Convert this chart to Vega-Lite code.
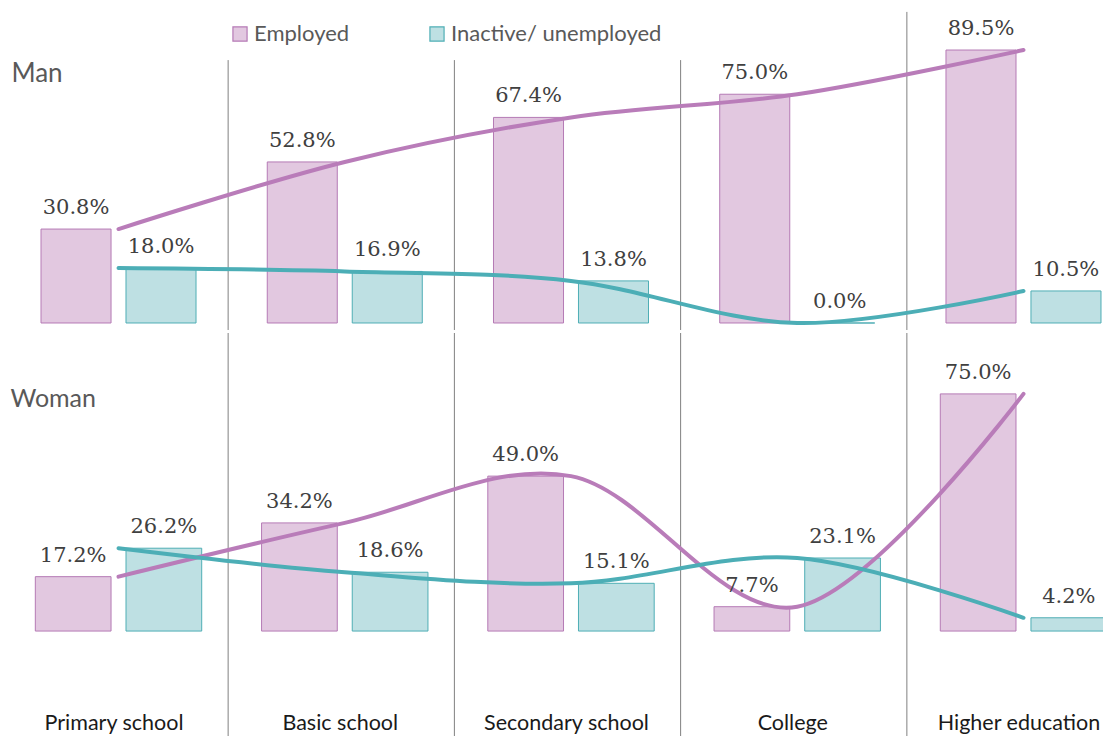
{
  "$schema": "https://vega.github.io/schema/vega-lite/v6.json",
  "padding": {"left": 2, "top": 0, "right": 0, "bottom": 0},
  "spacing": 0,
  "background": "white",
  "config": {"view": {"stroke": null}},
  "resolve": {"scale": {"x": "independent", "xOffset": "independent", "y": "independent"}},
  "datasets": {
    "d": [
      {"sex": "Man", "edu": "Primary school", "status": "Employed", "value": 0.308},
      {"sex": "Man", "edu": "Primary school", "status": "Inactive/ unemployed", "value": 0.180},
      {"sex": "Man", "edu": "Basic school", "status": "Employed", "value": 0.528},
      {"sex": "Man", "edu": "Basic school", "status": "Inactive/ unemployed", "value": 0.169},
      {"sex": "Man", "edu": "Secondary school", "status": "Employed", "value": 0.674},
      {"sex": "Man", "edu": "Secondary school", "status": "Inactive/ unemployed", "value": 0.138},
      {"sex": "Man", "edu": "College", "status": "Employed", "value": 0.750},
      {"sex": "Man", "edu": "College", "status": "Inactive/ unemployed", "value": 0.000},
      {"sex": "Man", "edu": "Higher education", "status": "Employed", "value": 0.895},
      {"sex": "Man", "edu": "Higher education", "status": "Inactive/ unemployed", "value": 0.105},
      {"sex": "Woman", "edu": "Primary school", "status": "Employed", "value": 0.172},
      {"sex": "Woman", "edu": "Primary school", "status": "Inactive/ unemployed", "value": 0.262},
      {"sex": "Woman", "edu": "Basic school", "status": "Employed", "value": 0.342},
      {"sex": "Woman", "edu": "Basic school", "status": "Inactive/ unemployed", "value": 0.186},
      {"sex": "Woman", "edu": "Secondary school", "status": "Employed", "value": 0.490},
      {"sex": "Woman", "edu": "Secondary school", "status": "Inactive/ unemployed", "value": 0.151},
      {"sex": "Woman", "edu": "College", "status": "Employed", "value": 0.077},
      {"sex": "Woman", "edu": "College", "status": "Inactive/ unemployed", "value": 0.231},
      {"sex": "Woman", "edu": "Higher education", "status": "Employed", "value": 0.750},
      {"sex": "Woman", "edu": "Higher education", "status": "Inactive/ unemployed", "value": 0.042}
    ],
    "sep": [
      {"edu": "Basic school"},
      {"edu": "Secondary school"},
      {"edu": "College"},
      {"edu": "Higher education"}
    ]
  },
  "vconcat": [
    {
      "width": 1101,
      "height": 330,
      "layer": [
        {
          "data": {"name": "sep"},
          "transform": [{"filter": "datum.edu !== 'Higher education'"}],
          "mark": {"type": "rule", "color": "#808080", "strokeWidth": 1, "xOffset": -3.5},
          "encoding": {
            "x": {"field": "edu", "type": "nominal", "bandPosition": 0,
                  "sort": ["Primary school", "Basic school", "Secondary school", "College", "Higher education"],
                  "scale": {"domain": ["Primary school", "Basic school", "Secondary school", "College", "Higher education"], "range": [3.4, 1134.6], "paddingInner": 0, "paddingOuter": 0}, "axis": null},
            "y": {"datum": 0.862, "type": "quantitative", "scale": {"domain": [-0.023, 1.059], "nice": false, "zero": false}, "axis": null},
            "y2": {"datum": -0.023}
          }
        },
        {
          "data": {"name": "sep"},
          "transform": [{"filter": "datum.edu === 'Higher education'"}],
          "mark": {"type": "rule", "color": "#808080", "strokeWidth": 1, "xOffset": -3.5},
          "encoding": {
            "x": {"field": "edu", "type": "nominal", "bandPosition": 0},
            "y": {"datum": 1.02, "type": "quantitative"},
            "y2": {"datum": -0.023}
          }
        },
        {
          "data": {"name": "d"},
          "transform": [{"filter": "datum.sex === 'Man'"}],
          "mark": {"type": "bar", "strokeWidth": 1},
          "encoding": {
            "x": {"field": "edu", "type": "nominal"},
            "xOffset": {"field": "status", "type": "nominal", "scale": {"paddingInner": 0.176, "paddingOuter": 0.419}},
            "y": {"field": "value", "type": "quantitative"},
            "fill": {"field": "status", "type": "nominal", "title": null,
                     "scale": {"domain": ["Employed", "Inactive/ unemployed"], "range": ["#E2C8E0", "#BEE0E3"]},
                     "legend": {"orient": "none", "legendX": 227, "legendY": 23, "direction": "horizontal", "title": null,
                                "symbolType": "square", "symbolSize": 200, "symbolStrokeWidth": 1.2,
                                "labelFont": "Lato", "labelFontSize": 22, "labelColor": "#595959", "labelOffset": 3, "labelLimit": 0,
                                "columnPadding": 76}},
            "stroke": {"field": "status", "type": "nominal", "title": null,
                       "scale": {"domain": ["Employed", "Inactive/ unemployed"], "range": ["#B57AB5", "#4FAEB5"]},
                       "legend": {"orient": "none", "legendX": 227, "legendY": 23, "direction": "horizontal", "title": null,
                                  "symbolType": "square", "symbolSize": 200, "symbolStrokeWidth": 1.2,
                                  "labelFont": "Lato", "labelFontSize": 22, "labelColor": "#595959", "labelOffset": 3, "labelLimit": 0,
                                  "columnPadding": 76}}
          }
        },
        {
          "data": {"name": "d"},
          "transform": [{"filter": "datum.sex === 'Man'"}],
          "mark": {"type": "line", "interpolate": "cardinal", "strokeWidth": 4, "strokeCap": "round"},
          "encoding": {
            "x": {"field": "edu", "type": "nominal"},
            "y": {"field": "value", "type": "quantitative"},
            "color": {"field": "status", "type": "nominal", "scale": {"domain": ["Employed", "Inactive/ unemployed"], "range": ["#B97CB9", "#4CAEB6"]}, "legend": null}
          }
        },
        {
          "data": {"name": "d"},
          "transform": [{"filter": "datum.sex === 'Man'"}],
          "mark": {"type": "text", "font": "DejaVu Serif", "fontSize": 21, "fill": "#404040", "baseline": "alphabetic", "dy": -15},
          "encoding": {
            "x": {"field": "edu", "type": "nominal"},
            "xOffset": {"field": "status", "type": "nominal"},
            "y": {"field": "value", "type": "quantitative"},
            "text": {"field": "value", "type": "quantitative", "format": ".1%"}
          }
        },
        {
          "data": {"values": [{"panel": "Man"}]},
          "mark": {"type": "text", "font": "Lato", "fontSize": 26, "fill": "#595959", "align": "left", "baseline": "alphabetic", "dx": 6},
          "encoding": {
            "x": {"datum": "Primary school", "type": "nominal", "bandPosition": 0},
            "y": {"datum": 0.79, "type": "quantitative"},
            "text": {"field": "panel"}
          }
        }
      ]
    },
    {
      "width": 1101,
      "height": 406,
      "layer": [
        {
          "data": {"name": "sep"},
          "mark": {"type": "rule", "color": "#808080", "strokeWidth": 1, "xOffset": -3.5},
          "encoding": {
            "x": {"field": "edu", "type": "nominal", "bandPosition": 0,
                  "sort": ["Primary school", "Basic school", "Secondary school", "College", "Higher education"],
                  "scale": {"domain": ["Primary school", "Basic school", "Secondary school", "College", "Higher education"], "range": [3.4, 1134.6], "paddingInner": 0, "paddingOuter": 0},
                  "axis": {"orient": "bottom", "offset": -27, "domain": false, "ticks": false, "labelPadding": 0, "labelOffset": -4.5, "labelFont": "Lato", "labelFontSize": 21.5, "labelColor": "#1a1a1a", "title": null, "labelAngle": 0, "labelOverlap": false}},
            "y": {"datum": 0.9426, "type": "quantitative", "scale": {"domain": [-0.3414, 0.9426], "nice": false, "zero": false}, "axis": null},
            "y2": {"datum": -0.3414}
          }
        },
        {
          "data": {"name": "d"},
          "transform": [{"filter": "datum.sex === 'Woman'"}],
          "mark": {"type": "bar", "strokeWidth": 1},
          "encoding": {
            "x": {"field": "edu", "type": "nominal"},
            "xOffset": {"field": "status", "type": "nominal", "scale": {"paddingInner": 0.165, "paddingOuter": 0.33}},
            "y": {"field": "value", "type": "quantitative"},
            "fill": {"field": "status", "type": "nominal", "title": null,
                     "scale": {"domain": ["Employed", "Inactive/ unemployed"], "range": ["#E2C8E0", "#BEE0E3"]},
                     "legend": {"orient": "none", "legendX": 227, "legendY": 23, "direction": "horizontal", "title": null,
                                "symbolType": "square", "symbolSize": 200, "symbolStrokeWidth": 1.2,
                                "labelFont": "Lato", "labelFontSize": 22, "labelColor": "#595959", "labelOffset": 3, "labelLimit": 0,
                                "columnPadding": 76}},
            "stroke": {"field": "status", "type": "nominal", "title": null,
                       "scale": {"domain": ["Employed", "Inactive/ unemployed"], "range": ["#B57AB5", "#4FAEB5"]},
                       "legend": {"orient": "none", "legendX": 227, "legendY": 23, "direction": "horizontal", "title": null,
                                  "symbolType": "square", "symbolSize": 200, "symbolStrokeWidth": 1.2,
                                  "labelFont": "Lato", "labelFontSize": 22, "labelColor": "#595959", "labelOffset": 3, "labelLimit": 0,
                                  "columnPadding": 76}}
          }
        },
        {
          "data": {"name": "d"},
          "transform": [{"filter": "datum.sex === 'Woman'"}],
          "mark": {"type": "line", "interpolate": "cardinal", "strokeWidth": 4, "strokeCap": "round"},
          "encoding": {
            "x": {"field": "edu", "type": "nominal"},
            "y": {"field": "value", "type": "quantitative"},
            "color": {"field": "status", "type": "nominal", "scale": {"domain": ["Employed", "Inactive/ unemployed"], "range": ["#B97CB9", "#4CAEB6"]}, "legend": null}
          }
        },
        {
          "data": {"name": "d"},
          "transform": [{"filter": "datum.sex === 'Woman'"}],
          "mark": {"type": "text", "font": "DejaVu Serif", "fontSize": 21, "fill": "#404040", "baseline": "alphabetic", "dy": -15},
          "encoding": {
            "x": {"field": "edu", "type": "nominal"},
            "xOffset": {"field": "status", "type": "nominal"},
            "y": {"field": "value", "type": "quantitative"},
            "text": {"field": "value", "type": "quantitative", "format": ".1%"}
          }
        },
        {
          "data": {"values": [{"panel": "Woman"}]},
          "mark": {"type": "text", "font": "Lato", "fontSize": 25, "fill": "#595959", "align": "left", "baseline": "alphabetic", "dx": 5},
          "encoding": {
            "x": {"datum": "Primary school", "type": "nominal", "bandPosition": 0},
            "y": {"datum": 0.71, "type": "quantitative"},
            "text": {"field": "panel"}
          }
        }
      ]
    }
  ]
}
